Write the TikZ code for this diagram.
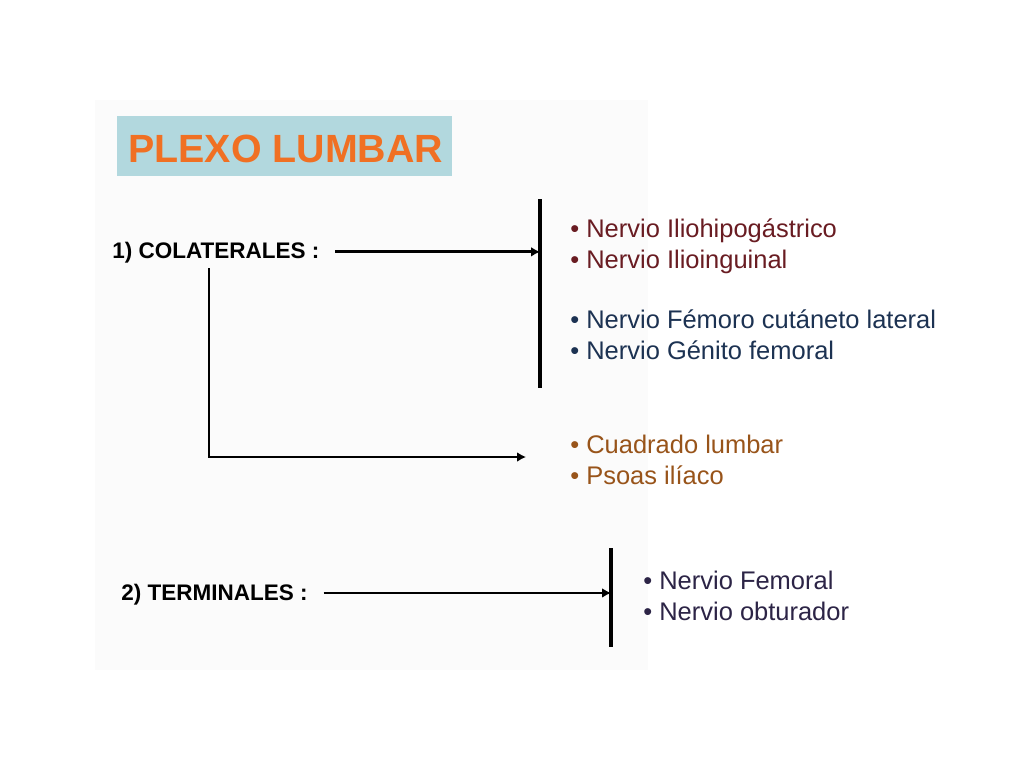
\documentclass[tikz,border=0pt]{standalone}
\usepackage{fontspec}
\setmainfont{Liberation Sans}
\usetikzlibrary{arrows.meta, positioning}
\definecolor{titlebg}{RGB}{178, 216, 222}
\definecolor{titlefg}{RGB}{240, 112, 35}
\definecolor{nervered}{RGB}{105, 28, 34}
\definecolor{nerveblue}{RGB}{28, 50, 82}
\definecolor{musclebrown}{RGB}{152, 84, 26}
\definecolor{termpurple}{RGB}{44, 36, 70}

\begin{document}
\begin{tikzpicture}[x=0.02cm, y=-0.02cm,
    heading/.style={font=\bfseries\fontsize{12.8}{15}\selectfont, anchor=base west, inner sep=0pt},
    item/.style={font=\fontsize{14.5}{17}\selectfont, anchor=base west, inner sep=0pt},
    arrowline/.style={-{Latex[length=5pt, width=5.5pt]}, line width=1.6pt},
    bar/.style={line width=2pt}]
        \useasboundingbox (0,0) rectangle (1024,768);
        % Background panel
        \fill[black!1.5] (95,100) rectangle (648,670);
        % Title box
        \fill[titlebg] (117,116) rectangle (452,176);
        \node[font=\bfseries\fontsize{22.4}{26}\selectfont, text=titlefg, anchor=base west, inner sep=0pt] (title) at (128,162) {PLEXO LUMBAR};
        % Headings
        \node[heading] (colat) at (112,258) {1) COLATERALES :};
        \node[heading] (term) at (121,600) {2) TERMINALES :};
        % Bars
        \coordinate (colattop) at (540,199);
        \coordinate (colatbot) at (540,388);
        \coordinate (termtop) at (611,548);
        \coordinate (termbot) at (611,647);
        \draw[bar] (colattop) -- (colatbot);
        \draw[bar] (termtop) -- (termbot);
        % Collateral nerves
        \node[item, text=nervered] (ilhip) at (570,237) {• Nervio Iliohipogástrico};
        \node[item, text=nervered] (ilin) at (570,268) {• Nervio Ilioinguinal};
        \node[item, text=nerveblue] (femcut) at (570,328) {• Nervio Fémoro cutáneto lateral};
        \node[item, text=nerveblue] (genfem) at (570,359) {• Nervio Génito femoral};
        % Muscles
        \node[item, text=musclebrown] (cuad) at (570,453) {• Cuadrado lumbar};
        \node[item, text=musclebrown] (psoas) at (570,484) {• Psoas ilíaco};
        % Terminal nerves
        \node[item, text=termpurple] (femoral) at (643,589) {• Nervio Femoral};
        \node[item, text=termpurple] (obtur) at (643,620) {• Nervio obturador};
        % Arrows
        \coordinate (branch) at (209,268);
        \coordinate (muscle) at (526,457);
        \draw[arrowline] ([xshift=9pt, yshift=3.5pt]colat.base east) -- ([yshift=3.5pt]colat.base east -| colattop);
        \draw[arrowline] (branch) |- (muscle);
        \draw[arrowline] ([xshift=9pt, yshift=4pt]term.base east) -- ([yshift=4pt]term.base east -| termtop);
\end{tikzpicture}
\end{document}
